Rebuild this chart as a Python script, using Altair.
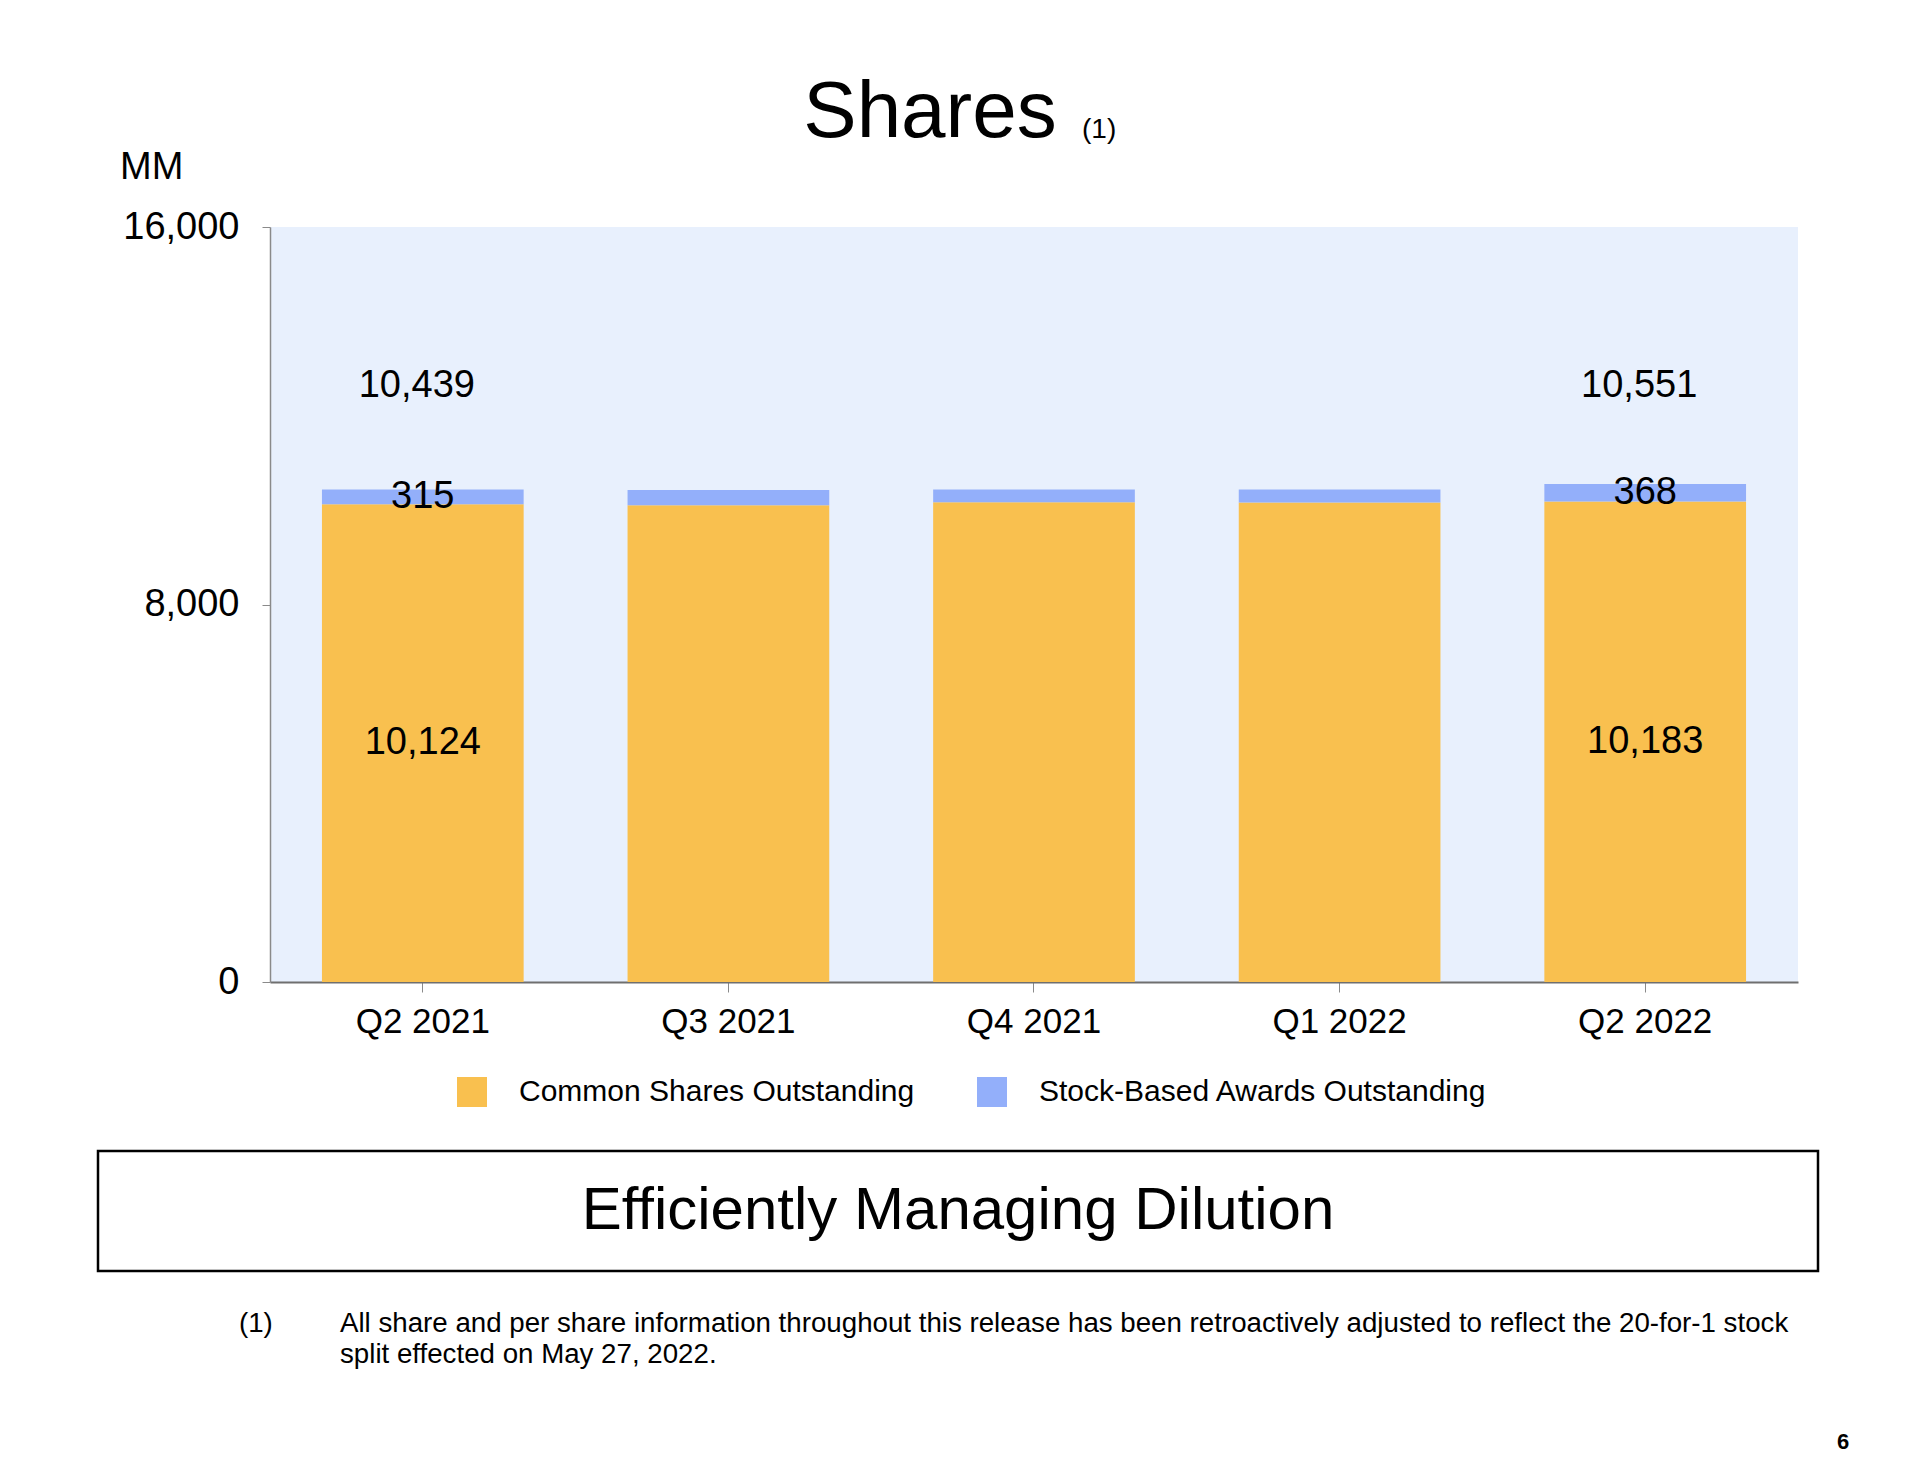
import altair as alt
import pandas as pd

quarters = ["Q2 2021", "Q3 2021", "Q4 2021", "Q1 2022", "Q2 2022"]
common_shares = [10124, 10105, 10165, 10160, 10183]
stock_awards = [315, 320, 270, 275, 368]
series_names = ["Common Shares Outstanding", "Stock-Based Awards Outstanding"]
labeled_quarters = ["Q2 2021", "Q2 2022"]
y_ticks = [0, 8000, 16000]

FONT = "Liberation Sans"
ORANGE = "#F9C04F"
BLUE = "#93AFFA"
BG = "#E8F0FD"

rows = []
for q, c, a in zip(quarters, common_shares, stock_awards):
    rows.append({"quarter": q, "series": series_names[0], "value": c, "ord": 0})
    rows.append({"quarter": q, "series": series_names[1], "value": a, "ord": 1})
long_df = pd.DataFrame(rows)

wide_df = pd.DataFrame({"quarter": quarters, "common": common_shares, "awards": stock_awards})

W, H = 1528, 755

xenc = alt.X(
    "quarter:N", sort=quarters, title=None,
    scale=alt.Scale(paddingInner=0.34, paddingOuter=0.17),
    axis=alt.Axis(labelAngle=0, labelFont=FONT, labelFontSize=35, labelColor="black",
                  tickSize=10, tickColor="#8a8a8a", domainColor="#6f6f6f", domainWidth=2,
                  labelPadding=12, bandPosition=0.5),
)

bars = alt.Chart(long_df).mark_bar().encode(
    x=xenc,
    y=alt.Y("value:Q", stack="zero", title=None,
            scale=alt.Scale(domain=[0, 16000], nice=False),
            axis=alt.Axis(values=y_ticks, labelExpr="format(datum.value, ',.0f')",
                          labelFont=FONT, labelFontSize=38,
                          labelColor="black", tickSize=8, tickColor="#8a8a8a",
                          domainColor="#8a8a8a", domainWidth=1.5, labelPadding=23,
                          grid=False, labelFlush=False)),
    color=alt.Color("series:N", sort=series_names,
                    scale=alt.Scale(domain=series_names, range=[ORANGE, BLUE]),
                    legend=alt.Legend(title=None, orient="none", legendX=187, legendY=850,
                                      direction="horizontal", symbolType="square",
                                      symbolSize=900, symbolStrokeWidth=0,
                                      labelFont=FONT, labelFontSize=30, labelColor="black",
                                      labelOffset=32, columnPadding=62, labelLimit=800,
                                      padding=0)),
    order=alt.Order("ord:Q"),
)

lab_base = alt.Chart(wide_df).transform_filter(
    alt.FieldOneOfPredicate(field="quarter", oneOf=labeled_quarters)
).transform_calculate(
    total="datum.common + datum.awards",
    mid_common="datum.common / 2",
    mid_awards="datum.common + datum.awards / 2",
)

txt = dict(font=FONT, fontSize=38, color="black", baseline="middle", align="center")

total_lab = lab_base.mark_text(dx=-6, **txt).encode(
    x=alt.X("quarter:N", sort=quarters), y=alt.value(159),
    text=alt.Text("total:Q", format=","))
common_lab = lab_base.mark_text(**txt).encode(
    x=alt.X("quarter:N", sort=quarters), y=alt.Y("mid_common:Q"),
    text=alt.Text("common:Q", format=","))
awards_lab = lab_base.mark_text(**txt).encode(
    x=alt.X("quarter:N", sort=quarters), y=alt.Y("mid_awards:Q"),
    text=alt.Text("awards:Q", format=","))

one = pd.DataFrame({"a": [0]})

def note(text, x, y, size, align="left", weight="normal"):
    return alt.Chart(one).mark_text(text=text, font=FONT, fontSize=size, align=align,
                                    baseline="alphabetic", color="black",
                                    fontWeight=weight).encode(
        x=alt.value(x), y=alt.value(y))

title = note("Shares", 660, -90, 80, align="center")
title_sup = note("(1)", 812, -89, 28)
mm = note("MM", -150, -48, 38)

box = alt.Chart(one).mark_rect(fill="white", stroke="black", strokeWidth=2.5).encode(
    x=alt.value(-172), x2=alt.value(1548), y=alt.value(924), y2=alt.value(1044))
box_text = note("Efficiently Managing Dilution", 688, 1002, 60, align="center")

fn_num = note("(1)", -31, 1105, 27.7)
fn_l1 = note("All share and per share information throughout this release has been retroactively adjusted to reflect the 20-for-1 stock", 70, 1105, 27.7)
fn_l2 = note("split effected on May 27, 2022.", 70, 1136, 27.7)
page = note("6", 1573, 1222, 22, align="center", weight="bold")

chart = alt.layer(
    bars, total_lab, common_lab, awards_lab,
    title, title_sup, mm, box, box_text, fn_num, fn_l1, fn_l2, page,
).properties(
    width=W, height=H,
    background="white",
    padding={"left": 262, "top": 219, "right": 100, "bottom": 476},
    autosize=alt.AutoSizeParams(type="none"),
).configure_view(fill=BG, strokeWidth=0)

chart.save("out.html", embed_options={"renderer": "svg", "actions": False})
